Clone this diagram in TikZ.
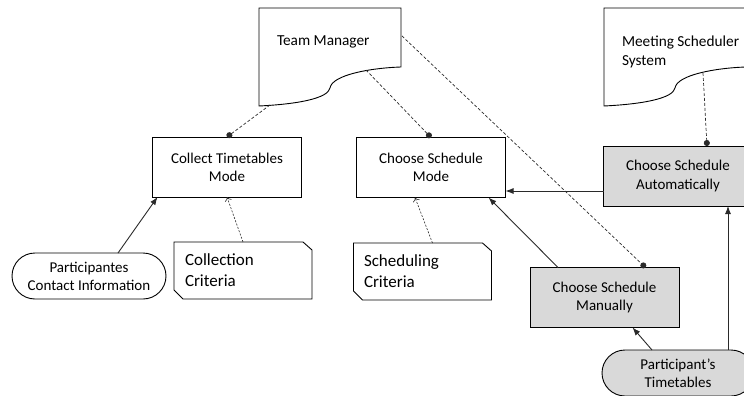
\documentclass[tikz,border=0pt]{standalone}
\usepackage{fontspec}
\setmainfont{Carlito}
\usetikzlibrary{arrows.meta}
\definecolor{boxgray}{HTML}{D9D9D9}
\definecolor{lnc}{HTML}{2A2A2A}
\begin{document}
\begin{tikzpicture}[x=1pt,y=-1pt,
  every node/.style={inner sep=0pt, outer sep=0pt},
  txt/.style={font=\fontsize{15}{18}\selectfont, align=center},
  bigtxt/.style={font=\fontsize{17}{21}\selectfont, align=left},
  doctxt/.style={font=\fontsize{15.3}{19.5}\selectfont, align=left},
  modebox/.style={draw=black, line width=0.9pt, fill=white, minimum width=149pt, minimum height=60pt, txt},
  graybox/.style={modebox, fill=boxgray},
  stadium/.style={draw=black, line width=0.9pt, rounded corners=23pt, minimum height=46pt, txt},
  docshape/.style={draw=black, line width=0.9pt, fill=white},
  notch/.style={draw=black, line width=0.9pt, fill=white},
  flow/.style={draw=lnc, line width=0.9pt, -{Latex[length=8pt,width=6pt]}},
  dflow/.style={draw=lnc, line width=0.6pt, dash pattern=on 2pt off 1.5pt, -{To[length=4pt,width=7pt]}},
  link/.style={draw=lnc, line width=0.7pt, dash pattern=on 3pt off 2pt, -{Circle[length=6pt]}},
]
\path[use as bounding box] (0,0) rectangle (744,396);
\clip (0,0) rectangle (744,396);

% document shapes
\draw[docshape] (259,8) -- (401,8) -- (401,67) .. controls (370,68) and (332,75) .. (330,88) .. controls (328,98) and (300,104) .. (259,106) -- cycle;
\node[doctxt, anchor=west] (tm) at (277,42) {Team Manager};
\draw[docshape] (604,8) -- (746,8) -- (746,67) .. controls (715,68) and (677,75) .. (675,88) .. controls (673,98) and (645,104) .. (604,106) -- cycle;
\node[doctxt, anchor=west] (ms) at (622,52) {Meeting Scheduler\\System};
\coordinate (tmA) at (270,105);
\coordinate (tmB) at (366,70);
\coordinate (tmC) at (402,36);
\coordinate (msA) at (703,73);

% boxes
\node[modebox] (col) at (227,167) {Collect Timetables\\Mode};
\node[modebox] (mode) at (431,167.5) {Choose Schedule\\Mode};
\node[graybox] (auto) at (678,176) {Choose Schedule\\Automatically};
\node[graybox] (man) at (604.5,297.5) {Choose Schedule\\Manually};

% stadiums
\node[stadium, minimum width=154pt] (pci) at (89,276) {Participantes\\Contact Information};
\node[stadium, fill=boxgray, minimum width=152pt] (pt) at (678,373) {Participant’s\\Timetables};

% notched boxes
\node[minimum width=138pt, minimum height=57pt] (cc) at (243,270.5) {};
\draw[notch] ([xshift=-9pt]cc.north east) -- ([yshift=-8pt]cc.north east) -- (cc.south east) -- ([xshift=9pt]cc.south west) -- ([yshift=9pt]cc.south west) -- (cc.north west) -- cycle;
\node[bigtxt, anchor=west] (cct) at (185,270.5) {Collection\\Criteria};
\node[minimum width=138pt, minimum height=57pt] (sc) at (422.5,271.5) {};
\draw[notch] ([xshift=-9pt]sc.north east) -- ([yshift=-8pt]sc.north east) -- (sc.south east) -- ([xshift=9pt]sc.south west) -- ([yshift=9pt]sc.south west) -- (sc.north west) -- cycle;
\node[bigtxt, anchor=west] (sct) at (364,271.5) {Scheduling\\Criteria};

% dashed links with dots
\draw[link] (tmA) -- (col.north);
\draw[link] (tmB) -- (mode.north);
\draw[link] (msA) -- ([xshift=29pt]auto.north);
\draw[link] (tmC) -- ([xshift=41pt]man.north);

% solid arrows
\draw[flow] ([xshift=29pt]pci.north) -- ([xshift=5pt]col.south west);
\draw[flow] ([yshift=-15pt]auto.west) -- ([yshift=-15pt]auto.west -| mode.east);
\draw[flow] ([xshift=28pt]man.north west) -- ([xshift=-17pt]mode.south east);
\draw[flow] ([xshift=-26pt]pt.north) -- ([xshift=28pt]man.south);
\draw[flow] ([xshift=50pt]pt.north) -- ([xshift=50pt]pt.north |- auto.south);

% dashed arrows
\draw[dflow] (cc.north) -- (col.south);
\draw[dflow] ([xshift=10pt]sc.north) -- ([xshift=-16pt]mode.south);
\end{tikzpicture}
\end{document}
